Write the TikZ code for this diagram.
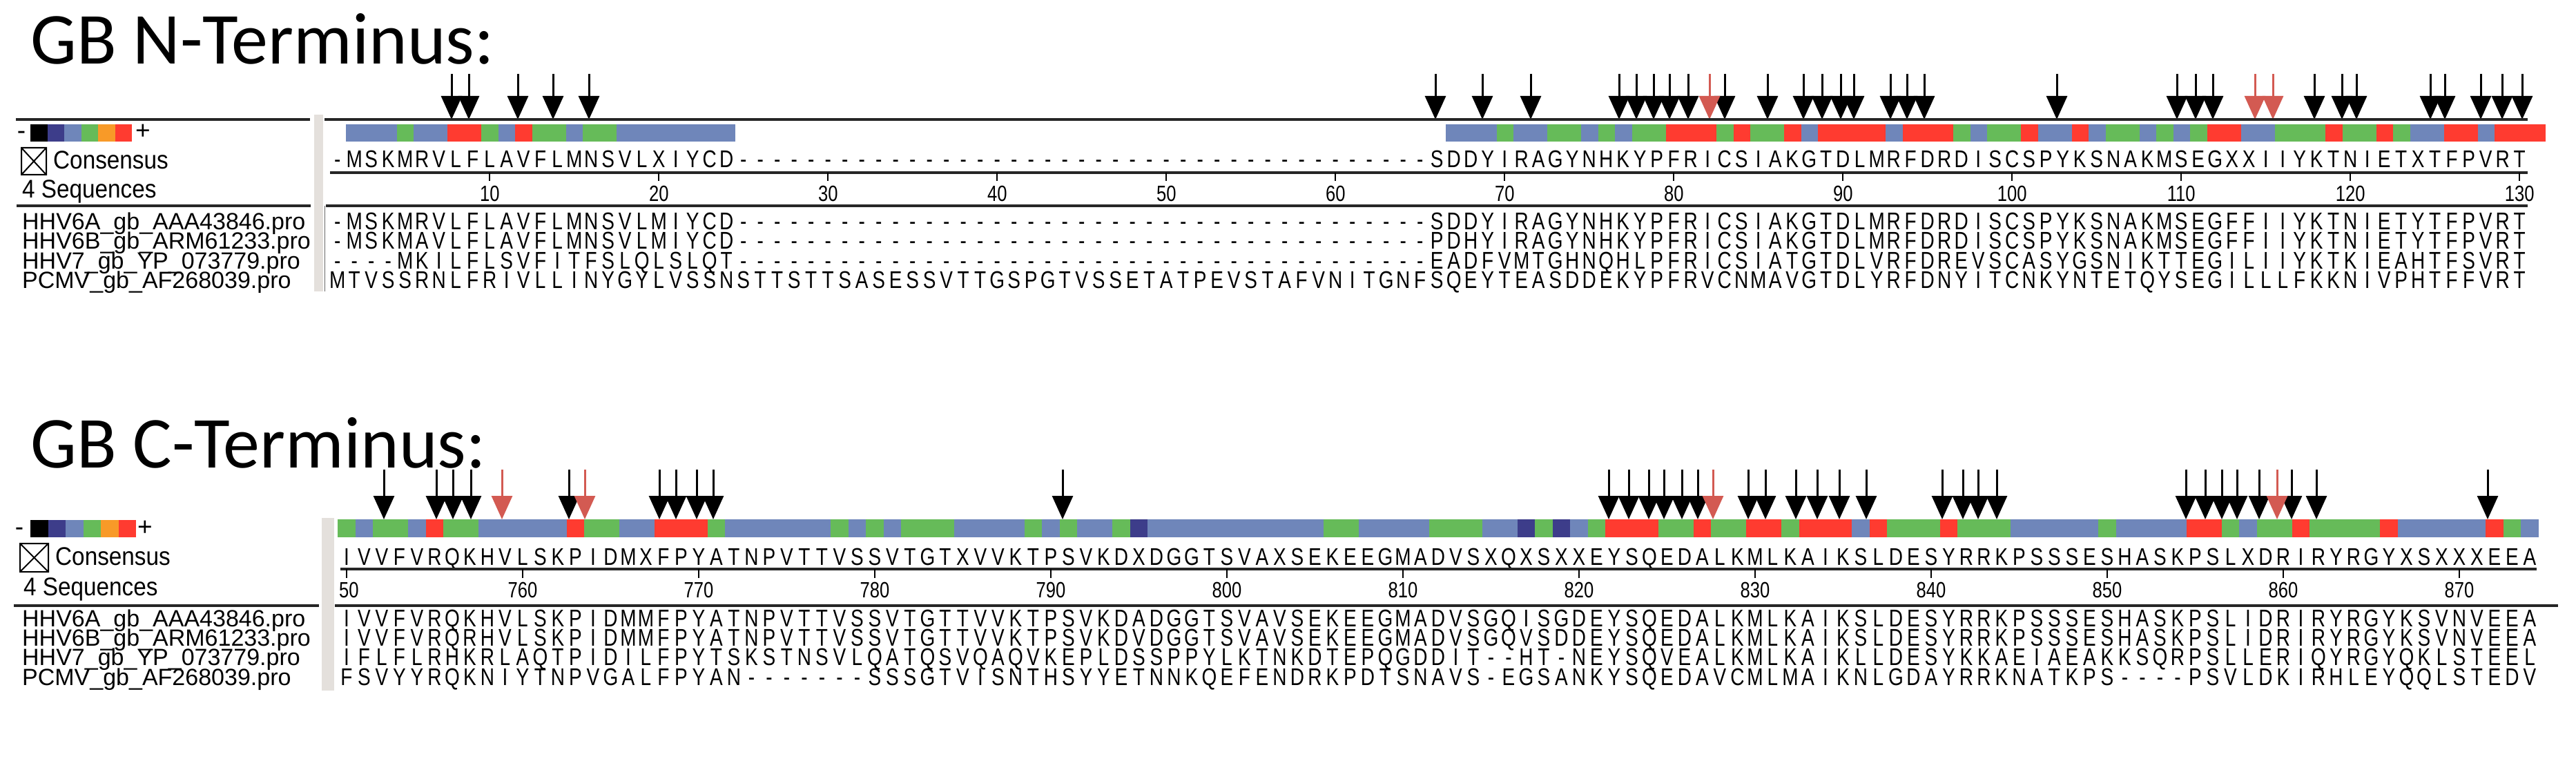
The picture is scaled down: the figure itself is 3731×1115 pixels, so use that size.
\documentclass[tikz,border=0pt]{standalone}
\usepackage{fontspec}
\setmainfont{Liberation Sans}
\newfontfamily\titlefont{Carlito}
\usetikzlibrary{arrows.meta}

\definecolor{cb}{HTML}{6F86BA}
\definecolor{cg}{HTML}{66BB59}
\definecolor{cr}{HTML}{FF3B30}
\definecolor{cd}{HTML}{3D3D8A}
\definecolor{co}{HTML}{F89A28}
\definecolor{ck}{HTML}{000000}
\definecolor{cx}{HTML}{D35A52}
\definecolor{sepgrey}{HTML}{E4E0DC}

\newcommand\cnd[1]{\scalebox{0.8}[1]{#1}}
\newcommand\nrw[1]{\scalebox{0.9}[1]{#1}}
\newcount\rescnt
% one residue per column
\newcommand\resrow[4]{\rescnt=0\def\rxo{#1}\def\rpt{#2}\def\ryb{#3}\resnext#4\relax}
\def\resnext#1{\ifx\relax#1\else
  \node[res] at ({\rxo+\the\rescnt*\rpt},\ryb) {\cnd{#1}};%
  \advance\rescnt by 1\relax\expandafter\resnext\fi}
% one coloured cell per column
\newcommand\barrow[5]{\rescnt=0\def\rxo{#1}\def\rpt{#2}\def\ryt{#3}\def\ryh{#4}\barnext#5\relax}
\def\barnext#1{\ifx\relax#1\else
  \fill[c#1] ({\rxo+\the\rescnt*\rpt},\ryt) rectangle ++(\rpt,\ryh);%
  \advance\rescnt by 1\relax\expandafter\barnext\fi}

\begin{document}
\begin{tikzpicture}[x=1pt,y=-1pt]
\tikzset{
  res/.style={anchor=base,inner sep=0pt,font=\fontsize{35}{35}\selectfont},
  lbl/.style={anchor=base west,inner sep=0pt,font=\fontsize{37}{37}\selectfont},
  seqname/.style={anchor=base west,inner sep=0pt,font=\fontsize{34}{34}\selectfont},
  num/.style={anchor=base,inner sep=0pt,font=\fontsize{32}{32}\selectfont},
  ttl/.style={anchor=base west,inner sep=0pt,font=\titlefont\fontsize{106}{106}\selectfont},
  rule/.style={line width=3.5pt,black!85},
  dnarr/.style={line width=3pt,-{Triangle[width=30pt,length=34pt]}},
  rdarr/.style={dnarr,cx},
  sep/.style={fill=sepgrey}
}
\useasboundingbox[fill=white] (0,0) rectangle (3731,1115);

% ---- N-terminus
\node[ttl] (ntitle) at (44,93) {GB N-Terminus:};
\foreach \x in {654,679,750,801,853,2079,2147,2217,2345,2370,2395,2418,2445,2498,2560,
  2612,2639,2666,2685,2738,2762,2787,2979,3153,3180,3205,3352,3392,3413,3520,3541,3593,3624,3653}
  \draw[dnarr] (\x,107) -- (\x,173);
\foreach \x in {2476,3266,3292}
  \draw[rdarr] (\x,107) -- (\x,173);
\fill[sep] (455,166) rectangle (468,422);
\draw[black!60,line width=1pt] (470,298) -- (470,422);
\draw[rule] (23,173) -- (449,173);
\draw[rule] (470,173) -- (3661,173);
\node[lbl,anchor=base] (nminus) at (31,202) {-};
\barrow{44}{24.5}{180}{25}{kdbgor}
\node[lbl,anchor=base] (nplus) at (207,202) {+};
\barrow{501}{24.5}{180}{25}{bbbgbbrrgbrggbggbbbbbbb}
\barrow{2094}{24.5}{180}{25}{bbbgbbggbgbggrrrgrggrbrrrrbrrrgbggrbbrbggbgbgrrbbgggrggrgbbrrbrrr}
\draw[line width=2pt] (31,214) rectangle (67,253) (31,214) -- (67,253) (67,214) -- (31,253);
\node[lbl] (ncons) at (77,245) {\nrw{Consensus}};
\resrow{488.75}{24.5}{243}{-MSKMRVLFLAVFLMNSVLXIYCD-----------------------------------------SDDYIRAGYNHKYPFRICSIAKGTDLMRFDRDISCSPYKSNAKMSEGXXIIYKTNIETXTFPVRT}
\draw[rule] (478,250) -- (3661,250);
\foreach \i in {1,...,13}{
  \pgfmathtruncatemacro\lab{10*\i}
  \draw[line width=2pt] (464.25+245*\i,250) -- (464.25+245*\i,262);
  \node[num] at (464.25+245*\i,292) {\cnd{\lab}};
}
\node[lbl] (nseq) at (32,287) {\nrw{4 Sequences}};
\draw[rule] (24,298) -- (450,298);
\draw[rule] (472,298) -- (3661,298);
\node[seqname] (na) at (32,332) {HHV6A\_gb\_AAA43846.pro};
\node[seqname] (nb) at (32,360.5) {HHV6B\_gb\_ARM61233.pro};
\node[seqname] (nc) at (32,389) {HHV7\_gb\_YP\_073779.pro};
\node[seqname] (nd) at (32,417.5) {PCMV\_gb\_AF268039.pro};
\resrow{488.75}{24.5}{332}{-MSKMRVLFLAVFLMNSVLMIYCD-----------------------------------------SDDYIRAGYNHKYPFRICSIAKGTDLMRFDRDISCSPYKSNAKMSEGFFIIYKTNIETYTFPVRT}
\resrow{488.75}{24.5}{360.5}{-MSKMAVLFLAVFLMNSVLMIYCD-----------------------------------------PDHYIRAGYNHKYPFRICSIAKGTDLMRFDRDISCSPYKSNAKMSEGFFIIYKTNIETYTFPVRT}
\resrow{488.75}{24.5}{389}{----MKILFLSVFITFSLQLSLQT-----------------------------------------EADFVMTGHNQHLPFRICSIATGTDLVRFDREVSCASYGSNIKTTEGILIIYKTKIEAHTFSVRT}
\resrow{488.75}{24.5}{417.5}{MTVSSRNLFRIVLLINYGYLVSSNSTTSTTSASESSVTTGSPGTVSSETATPEVSTAFVNITGNFSQEYTEASDDEKYPFRVCNMAVGTDLYRFDNYITCNKYNTETQYSEGILLLFKKNIVPHTFFVRT}

% ---- C-terminus
\node[ttl] (ctitle) at (44,677) {GB C-Terminus:};
\foreach \x in {556,632,656,682,824,955,979,1009,1033,1539,2330,2359,2388,2410,2436,2459,
  2532,2557,2601,2632,2664,2703,2813,2843,2865,2892,3166,3194,3218,3240,3272,3319,3355,3603}
  \draw[dnarr] (\x,680) -- (\x,752);
\foreach \x in {727,847,2481,3298}
  \draw[rdarr] (\x,680) -- (\x,752);
\node[lbl,anchor=base] (cminus) at (28,775) {-};
\barrow{44}{25.5}{753}{25}{kdbgor}
\node[lbl,anchor=base] (cplus) at (210,775) {+};
\barrow{489.25}{25.5}{752}{26}{gbggbrggbbbbbrggbbrrrgbbbbbbgbgbgggbbbbgbgbbgdbbbbbbbbbbggbbbbgggbbdgdbgrrrggrggrrgrrrbrgggrgggbbbbbgbbbbrrgbggrggggrbbbbbrgb}
\draw[line width=2pt] (29,787) rectangle (70,828) (29,787) -- (70,828) (70,787) -- (29,828);
\node[lbl] (ccons) at (80,818) {\nrw{Consensus}};
\resrow{502}{25.5}{818}{IVVFVRQKHVLSKPIDMXFPYATNPVTTVSSVTGTXVVKTPSVKDXDGGTSVAXSEKEEGMADVSXQXSXXEYSQEDALKMLKAIKSLDESYRRKPSSSESHASKPSLXDRIRYRGYXSXXXEEA}
\draw[rule] (493,824) -- (3674,824);
\draw[line width=2pt] (502,824) -- (502,837);
\node[num,anchor=base west] at (491,865) {\cnd{50}};
\foreach \k in {760,770,...,870}{
  \pgfmathsetmacro\cx{502+25.5*(\k-750)}
  \draw[line width=2pt] (\cx,824) -- (\cx,837);
  \node[num] at (\cx,865) {\cnd{\k}};
}
\fill[sep] (466,750) rectangle (484,1000);
\node[lbl] (cseq) at (34,862) {\nrw{4 Sequences}};
\draw[rule] (20,877) -- (462,877);
\draw[rule] (485,877) -- (3705,877);
\node[seqname] (ca) at (32,907) {HHV6A\_gb\_AAA43846.pro};
\node[seqname] (cb) at (32,935) {HHV6B\_gb\_ARM61233.pro};
\node[seqname] (cc) at (32,963) {HHV7\_gb\_YP\_073779.pro};
\node[seqname] (cd) at (32,992) {PCMV\_gb\_AF268039.pro};
\resrow{502}{25.5}{907}{IVVFVRQKHVLSKPIDMMFPYATNPVTTVSSVTGTTVVKTPSVKDADGGTSVAVSEKEEGMADVSGQISGDEYSQEDALKMLKAIKSLDESYRRKPSSSESHASKPSLIDRIRYRGYKSVNVEEA}
\resrow{502}{25.5}{935}{IVVFVRQRHVLSKPIDMMFPYATNPVTTVSSVTGTTVVKTPSVKDVDGGTSVAVSEKEEGMADVSGQVSDDEYSQEDALKMLKAIKSLDESYRRKPSSSESHASKPSLIDRIRYRGYKSVNVEEA}
\resrow{502}{25.5}{963}{IFLFLRHKRLAQTPIDILFPYTSKSTNSVLQATQSVQAQVKEPLDSSPPYLKTNKDTEPQGDDIT--HT-NEYSQVEALKMLKAIKLLDESYKKAEIAEAKKSQRPSLLERIQYRGYQKLSTEEL}
\resrow{502}{25.5}{992}{FSVYYRQKNIYTNPVGALFPYAN-------SSSGTVISNTHSYYETNNKQEFENDRKPDTSNAVS-EGSANKYSQEDAVCMLMAIKNLGDAYRRKNATKPS----PSVLDKIRHLEYQQLSTEDV}
\end{tikzpicture}
\end{document}
